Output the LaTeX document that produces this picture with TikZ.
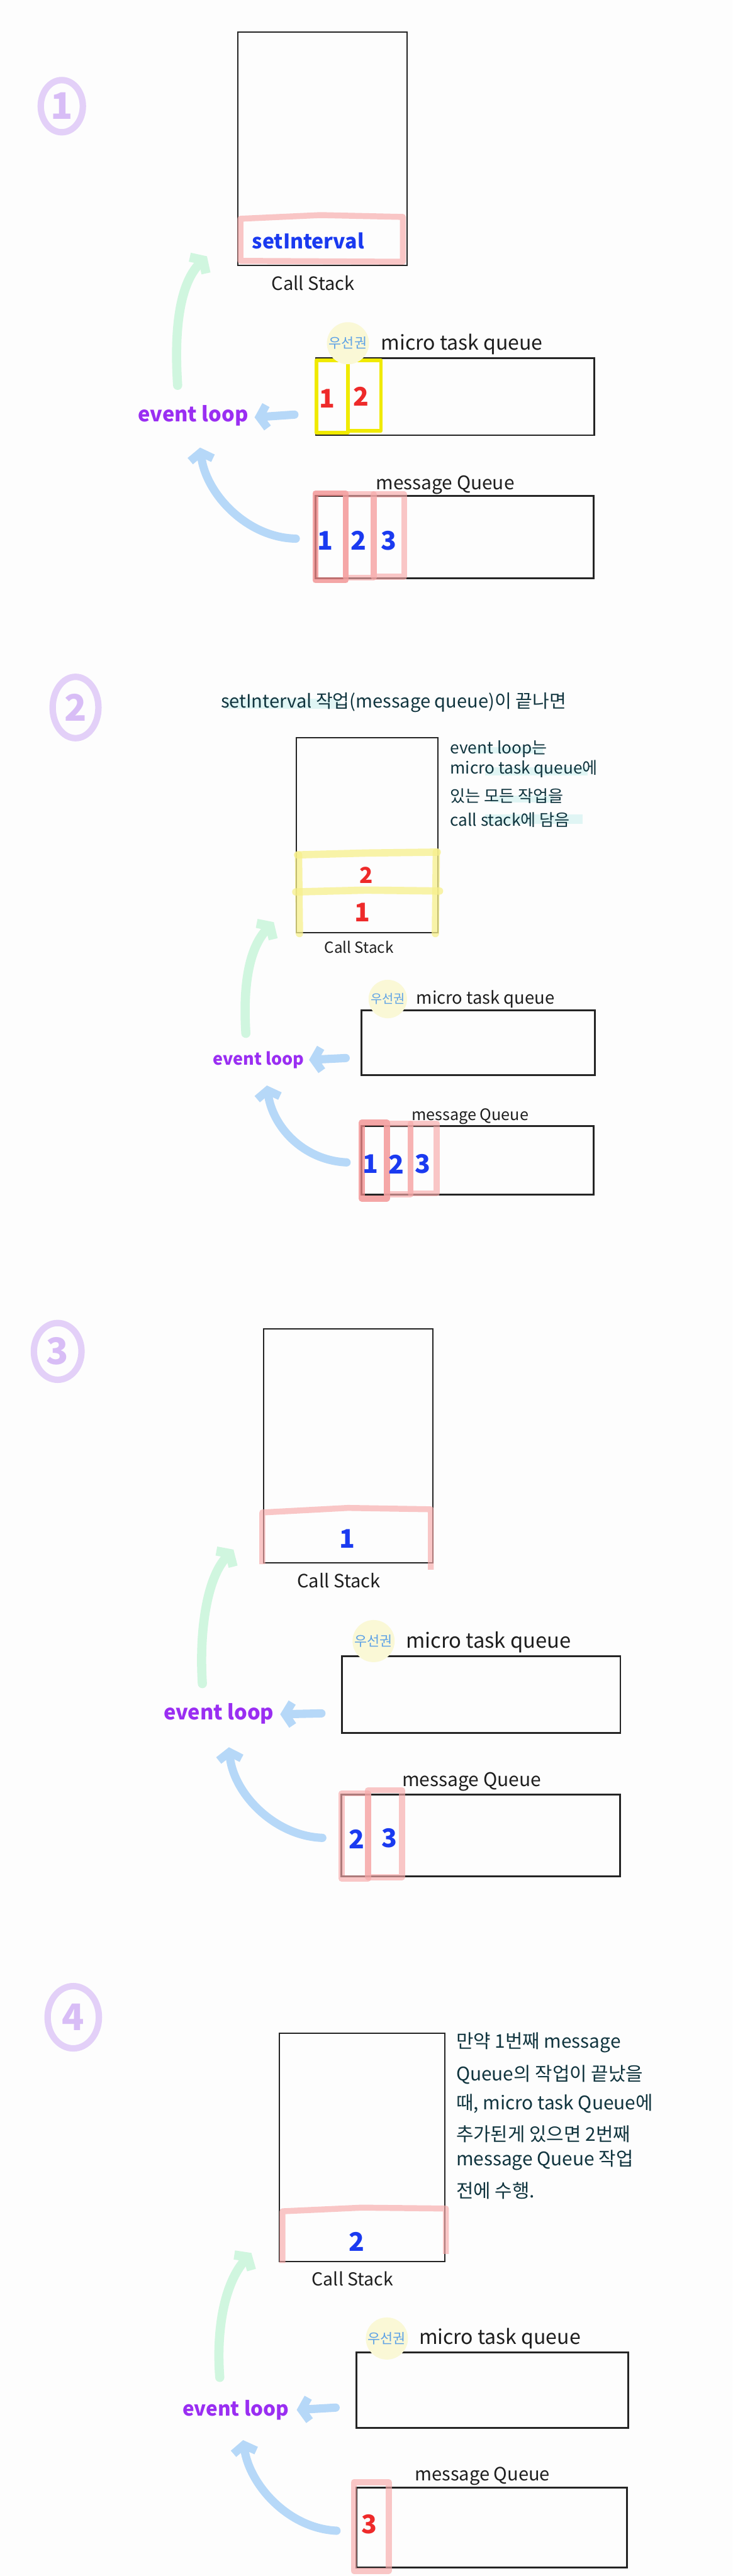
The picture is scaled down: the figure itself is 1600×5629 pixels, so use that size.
\documentclass[tikz,border=0pt]{standalone}
\usepackage{fontspec}
\setmainfont{Noto Sans CJK KR}
\usetikzlibrary{arrows.meta,fit,shapes.geometric}
\definecolor{bgc}{HTML}{FDFDFD}
\definecolor{boxc}{HTML}{242424}
\definecolor{labelc}{HTML}{1E1E1E}
\definecolor{notec}{HTML}{10343E}
\definecolor{notehl}{HTML}{E0F5F4}
\definecolor{pinkc}{HTML}{F7A9A9}
\definecolor{pinkd}{HTML}{F28A8A}
\definecolor{yelc}{HTML}{F0EA00}
\definecolor{paleyel}{HTML}{F7F08C}
\definecolor{greenc}{HTML}{D0F6DF}
\definecolor{bluec}{HTML}{B6D8F8}
\definecolor{purplec}{HTML}{9A2EF2}
\definecolor{lavc}{HTML}{E3D0F8}
\definecolor{lavd}{HTML}{D8BDF6}
\definecolor{numblue}{HTML}{1A3AF0}
\definecolor{numred}{HTML}{EE2A2A}
\definecolor{prioc}{HTML}{FAF8D6}
\definecolor{priot}{HTML}{5EA2E6}
\tikzset{
  stackbox/.style={draw=boxc, line width=1.3pt, inner sep=0pt, outer sep=0pt},
  queuebox/.style={draw=boxc, line width=2pt, inner sep=0pt, outer sep=0pt},
  pinkhl/.style={draw=pinkc, line width=6.5pt, opacity=0.65, line join=round},
  pinkdk/.style={draw=pinkd, line width=6.5pt, opacity=0.75, line join=round},
  yelhl/.style={draw=yelc, line width=4pt, line join=round},
  paleband/.style={draw=paleyel, line width=8pt, opacity=0.75, line cap=round},
  greenarr/.style={draw=greenc, line width=10pt, line cap=round, -{Straight Barb[length=8pt,width=25pt]}},
  bluearr/.style={draw=bluec, line width=9pt, line cap=round, -{Straight Barb[length=8pt,width=25pt]}},
  fs/.style={font=\fontsize{#1}{#1}\selectfont},
  lbl/.style={fs=20, text=labelc, inner sep=0pt},
  mlbl/.style={fs=22, text=labelc, inner sep=0pt, anchor=west},
  evl/.style={font=\bfseries\fontsize{#1}{#1}\selectfont, text=purplec, inner sep=0pt},
  evl/.default=22.4,
  numb/.style={font=\bfseries\fontsize{#1}{#1}\selectfont, inner sep=0pt},
  numb/.default=28,
  prio/.style={circle, fill=prioc, minimum size=#1, font=\fontsize{15}{15}\selectfont, text=priot, inner sep=0pt},
  prio/.default=46pt,
  stepnum/.style={ellipse, draw=lavc, line width=7pt, text=lavd, font=\bfseries\fontsize{40}{40}\selectfont, inner sep=0pt},
  notetxt/.style={font=\fontsize{#1}{#1}\selectfont, text=notec, inner sep=0pt, anchor=west},
  notetxt/.default=19
}
\begin{document}
\begin{tikzpicture}[x=0.5pt,y=-0.5pt]
\fill[bgc] (0,0) rectangle (1600,5629);
\useasboundingbox (0,0) rectangle (1600,5629);

%%%%%%%%%%%%%%%% Section 1
\node[stepnum, minimum width=46pt, minimum height=57pt] (n1) at (135,232) {1};
\node[stackbox, fit={(519,70) (889,580)}] (cs1) {};
\node[queuebox, fit={(691,783) (1298,951)}] (mq1) {};
\node[queuebox, fit={(689,1084) (1296,1264)}] (ms1) {};
\draw[pinkhl] (525,570) -- (525,478) -- (700,470) -- (880,474) -- (880,572) -- cycle;
\draw[yelhl] (691,787) rectangle (760,945);
\draw[yelhl] (760,787) rectangle (832,941);
\draw[pinkdk] (689,1078) rectangle (755,1268);
\draw[pinkhl] (755,1080) rectangle (816,1262);
\draw[pinkhl] (816,1080) rectangle (883,1260);
\node[font=\bfseries\fontsize{22}{26}\selectfont, text=numblue, inner sep=0pt] (si1) at (673,526) {setInterval};
\node[lbl] (csl1) at (684,618) {Call Stack};
\node[prio] (p1) at (760,750) {우선권};
\node[mlbl] (mql1) at (832,752) {micro task queue};
\node[mlbl, fs=20.5] (msl1) at (821,1060) {message Queue};
\node[numb, text=numred] (a11) at (714,871) {1};
\node[numb, text=numred] (a12) at (789,867) {2};
\node[numb, text=numblue] (b11) at (711,1181) {1};
\node[numb, text=numblue] (b12) at (783,1181) {2};
\node[numb, text=numblue] (b13) at (849,1181) {3};
\node[evl] (ev1) at (422,908) {event loop};
\coordinate (g1s) at (388,842);
\coordinate (g1e) at (452,560);
\coordinate (b1s) at (643,906);
\coordinate (b1e) at (556,912);
\coordinate (c1s) at (646,1177);
\coordinate (c1e) at (437,978);
\draw[greenarr] (g1s) .. controls (380,720) and (392,620) .. (g1e);
\draw[bluearr] (b1s) -- (b1e);
\draw[bluearr] (c1s) .. controls (540,1175) and (450,1080) .. (c1e);

%%%%%%%%%%%%%%%% Section 2
\node[stepnum, minimum width=50pt, minimum height=67pt] (n2) at (165,1546) {2};
\fill[notehl] (492,1527) rectangle (744,1549);
\node[notetxt=20] (t2) at (482,1535) {setInterval 작업(message queue)이 끝나면};
\node[stackbox, fit={(647,1612) (957,2038)}] (cs2) {};
\fill[notehl] (1031,1632) rectangle (1186,1646);
\fill[notehl] (1060,1676) rectangle (1284,1694);
\fill[notehl] (1072,1738) rectangle (1210,1754);
\fill[notehl] (1060,1780) rectangle (1272,1800);
\node[notetxt=18] (e21) at (983,1637) {event loop는};
\node[notetxt=18] (e22) at (983,1680) {micro task queue에};
\node[notetxt=18] (e23) at (983,1740) {있는 모든 작업을};
\node[notetxt=18] (e24) at (983,1792) {call stack에 담음};
\draw[paleband] (650,1868) -- (800,1864) -- (955,1862);
\draw[paleband] (646,1949) -- (800,1945) -- (960,1947);
\draw[paleband] (652,1868) -- (654,2040);
\draw[paleband] (953,1862) -- (951,2040);
\node[numb=24, text=numred] (a22) at (800,1912) {2};
\node[numb, text=numred] (a21) at (792,1993) {1};
\node[lbl, fs=16.6] (csl2) at (784,2070) {Call Stack};
\node[queuebox, fit={(790,2208) (1299,2349)}] (mq2) {};
\node[queuebox, fit={(790,2460) (1297,2610)}] (ms2) {};
\node[prio=42pt, fs=13.5, text=priot] (p2) at (847,2183) {우선권};
\node[mlbl, fs=18.8] (mql2) at (909,2183) {micro task queue};
\node[mlbl, fs=17.3] (msl2) at (899,2440) {message Queue};
\draw[pinkdk] (790,2453) rectangle (845,2619);
\draw[pinkhl] (845,2455) rectangle (897,2610);
\draw[pinkhl] (897,2455) rectangle (954,2608);
\node[numb, text=numblue] (b21) at (809,2544) {1};
\node[numb, text=numblue] (b22) at (866,2544) {2};
\node[numb, text=numblue] (b23) at (924,2544) {3};
\node[evl=18.5] (ev2) at (565,2316) {event loop};
\coordinate (g2s) at (537,2258);
\coordinate (g2e) at (598,2015);
\coordinate (b2s) at (755,2312);
\coordinate (b2e) at (675,2316);
\coordinate (c2s) at (757,2540);
\coordinate (c2e) at (583,2372);
\draw[greenarr] (g2s) .. controls (530,2150) and (545,2070) .. (g2e);
\draw[bluearr] (b2s) -- (b2e);
\draw[bluearr] (c2s) .. controls (660,2535) and (595,2460) .. (c2e);

%%%%%%%%%%%%%%%% Section 3
\node[stepnum, minimum width=52pt, minimum height=62pt] (n3) at (126,2953) {3};
\node[stackbox, fit={(576,2904) (946,3415)}] (cs3) {};
\draw[pinkhl] (573,3418) -- (573,3305) -- (760,3295) -- (941,3298) -- (941,3430);
\node[numb, text=numblue] (a31) at (758,3363) {1};
\node[lbl] (csl3) at (740,3454) {Call Stack};
\node[queuebox, fit={(747,3619) (1355,3787)}] (mq3) {};
\node[queuebox, fit={(746,3921) (1354,4100)}] (ms3) {};
\node[prio] (p3) at (816,3586) {우선권};
\node[mlbl, fs=22.5] (mql3) at (886,3588) {micro task queue};
\node[mlbl, fs=20.6] (msl3) at (878,3894) {message Queue};
\draw[pinkhl] (746,3919) rectangle (804,4105);
\draw[pinkhl] (804,3912) rectangle (878,4102);
\node[numb, text=numblue] (b32) at (779,4019) {2};
\node[numb, text=numblue] (b33) at (850,4016) {3};
\node[evl] (ev3) at (478,3745) {event loop};
\coordinate (g3s) at (442,3679);
\coordinate (g3e) at (510,3386);
\coordinate (b3s) at (702,3744);
\coordinate (b3e) at (612,3746);
\coordinate (c3s) at (704,4016);
\coordinate (c3e) at (500,3818);
\draw[greenarr] (g3s) .. controls (435,3570) and (450,3450) .. (g3e);
\draw[bluearr] (b3s) -- (b3e);
\draw[bluearr] (c3s) .. controls (600,4012) and (510,3920) .. (c3e);

%%%%%%%%%%%%%%%% Section 4
\node[stepnum, minimum width=56pt, minimum height=68pt] (n4) at (160,4408) {4};
\node[stackbox, fit={(610,4443) (972,4942)}] (cs4) {};
\draw[pinkhl] (617,4945) -- (617,4832) -- (790,4824) -- (974,4826) -- (974,4925);
\node[numb, text=numblue] (a42) at (779,4898) {2};
\node[lbl, fs=19.5] (csl4) at (770,4980) {Call Stack};
\node[notetxt=20.5] (e41) at (996,4463) {만약 1번째 message};
\node[notetxt=20.5] (e42) at (996,4533) {Queue의 작업이 끝났을};
\node[notetxt=20.5] (e43) at (996,4597) {때, micro task Queue에};
\node[notetxt=20.5] (e44) at (996,4663) {추가된게 있으면 2번째};
\node[notetxt=20.5] (e45) at (996,4720) {message Queue 작업};
\node[notetxt=20.5] (e46) at (996,4787) {전에 수행.};
\node[queuebox, fit={(778,5141) (1372,5305)}] (mq4) {};
\node[queuebox, fit={(778,5436) (1370,5611)}] (ms4) {};
\node[prio] (p4) at (845,5110) {우선권};
\node[mlbl] (mql4) at (915,5110) {micro task queue};
\node[mlbl, fs=20] (msl4) at (906,5411) {message Queue};
\draw[pinkhl] (773,5424) rectangle (849,5618);
\node[numb, text=numred] (b43) at (806,5516) {3};
\node[evl=21.6] (ev4) at (515,5266) {event loop};
\coordinate (g4s) at (480,5195);
\coordinate (g4e) at (549,4923);
\coordinate (b4s) at (733,5261);
\coordinate (b4e) at (648,5266);
\coordinate (c4s) at (735,5530);
\coordinate (c4e) at (531,5332);
\draw[greenarr] (g4s) .. controls (472,5090) and (490,4990) .. (g4e);
\draw[bluearr] (b4s) -- (b4e);
\draw[bluearr] (c4s) .. controls (630,5525) and (545,5430) .. (c4e);
\end{tikzpicture}
\end{document}
